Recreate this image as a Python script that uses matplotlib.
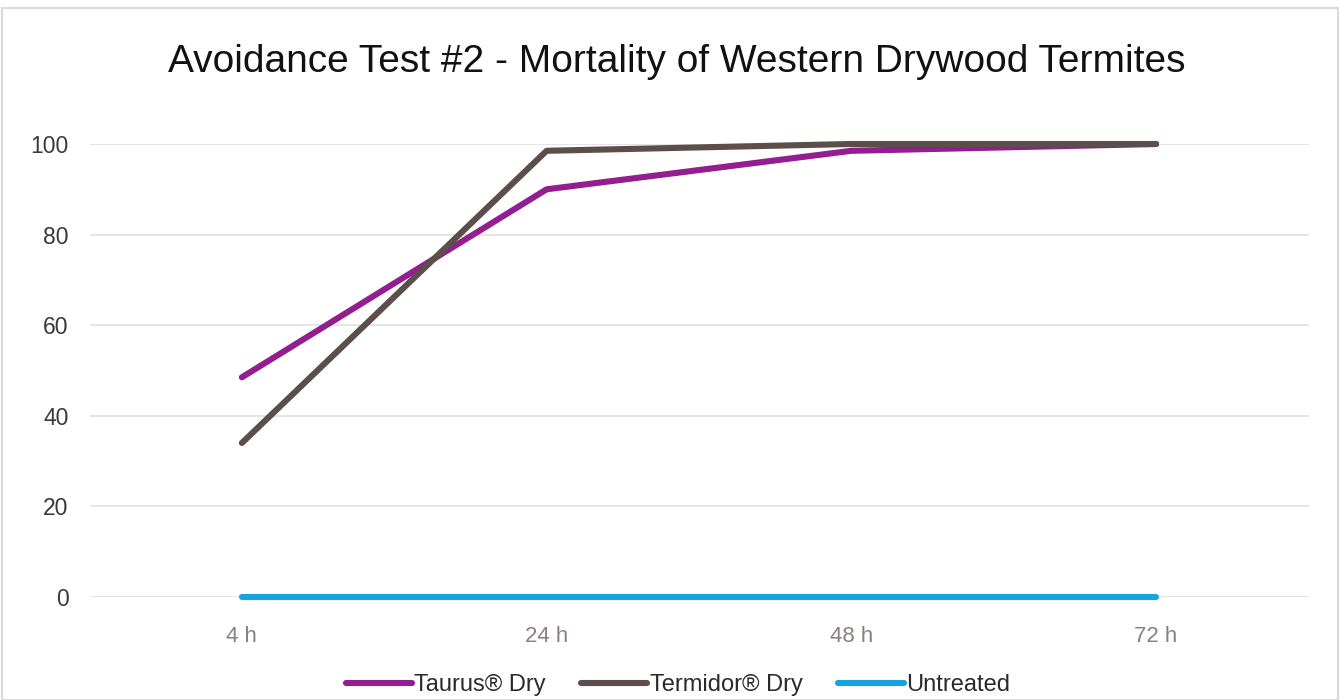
import matplotlib
matplotlib.use('Agg')
import matplotlib.pyplot as plt
from matplotlib.patches import Rectangle

# data
hours = ['4 h', '24 h', '48 h', '72 h']
taurus = [48.5, 90, 98.5, 100]
termidor = [34, 98.5, 100, 100]
untreated = [0, 0, 0, 0]
y_ticks = [0, 20, 40, 60, 80, 100]

plt.rcParams['font.family'] = ['Liberation Sans', 'DejaVu Sans']

fig = plt.figure(figsize=(13.4, 7.0), dpi=100)
ax = fig.add_axes([89.5 / 1340, 1 - 597 / 700, (1308.5 - 89.5) / 1340, (597 - 144) / 700])

x = range(len(hours))
ax.plot(x, taurus, color='#921e8f', lw=4.4, solid_capstyle='round', clip_on=False, label='Taurus® Dry', zorder=3)
ax.plot(x, termidor, color='#5b4e4b', lw=4.4, solid_capstyle='round', clip_on=False, label='Termidor® Dry', zorder=4)
ax.plot(x, untreated, color='#17a3e0', lw=4.4, solid_capstyle='round', clip_on=False, label='Untreated', zorder=2)

ax.set_xlim(-0.5, 3.5)
ax.set_ylim(0, 100)
ax.set_xticks(list(x))
ax.set_xticklabels(hours, color='#8d7f7f', fontsize=16)
ax.set_yticks(y_ticks)
ax.set_yticklabels([str(v) for v in y_ticks], color='#3a3a3a', fontsize=16.5)
ax.tick_params(length=0)
ax.tick_params(axis='x', pad=21)
ax.tick_params(axis='y', pad=15)
ax.grid(axis='y', color='#e6e2e1', lw=1.3)
ax.set_axisbelow(True)
for s in ax.spines.values():
    s.set_visible(False)

fig.text(0.505, 1 - 62 / 700, 'Avoidance Test #2 - Mortality of Western Drywood Termites',
         ha='center', va='center', fontsize=28, color='#111111')

leg = fig.legend(loc='center', bbox_to_anchor=(0.506, 1 - 685 / 700), ncol=3, frameon=False,
                 fontsize=17, handlelength=2.8, handletextpad=0.1, columnspacing=1.5)
for t in leg.get_texts():
    t.set_color('#2a2a2a')

# light frame around the chart, as in the screenshot
fig.patches.append(Rectangle((2 / 1340, 0), 1336 / 1340, 1 - 8 / 700, transform=fig.transFigure,
                             fill=False, edgecolor='#d9d9d9', lw=1.5))

fig.savefig('out.png', dpi=100)
